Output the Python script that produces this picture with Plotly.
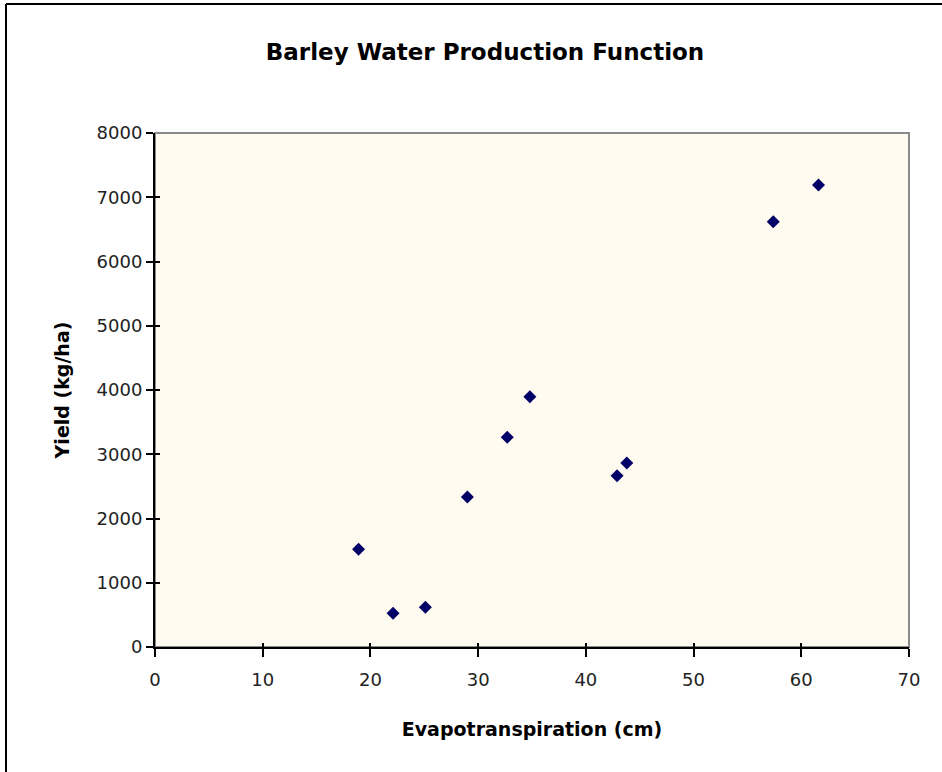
import plotly.graph_objects as go

evapotranspiration_cm = [18.9, 22.1, 25.1, 29.0, 32.7, 34.8, 42.9, 43.8, 57.4, 61.6]
yield_kg_ha = [1520, 525, 620, 2335, 3265, 3895, 2665, 2865, 6620, 7190]

x_ticks = [0, 10, 20, 30, 40, 50, 60, 70]
y_ticks = [0, 1000, 2000, 3000, 4000, 5000, 6000, 7000, 8000]

FONT = "DejaVu Sans, Verdana, sans-serif"
W, H = 942, 772
L, R, T, B = 155, 33, 133, 125

fig = go.Figure()
fig.add_trace(go.Scatter(
    x=evapotranspiration_cm, y=yield_kg_ha, mode="markers",
    marker=dict(symbol="diamond", size=10, color="#000066"),
    showlegend=False, hoverinfo="x+y"))
# invisible trace for inner tick overlay
fig.add_trace(go.Scatter(x=[0], y=[0], xaxis="x2", yaxis="y2", mode="markers",
                         marker=dict(opacity=0), showlegend=False, hoverinfo="skip"))

pw = W - L - R
ph = H - T - B

fig.update_layout(
    width=W, height=H,
    margin=dict(l=L, r=R, t=T, b=B, autoexpand=False),
    paper_bgcolor="white",
    plot_bgcolor="#FFFBF0",
    title=dict(text="<b>Barley Water Production Function</b>",
               x=(485 - L) / pw, xref="paper", xanchor="center",
               y=1 - 52 / H, yanchor="middle",
               font=dict(family=FONT, size=23, color="black")),
    font=dict(family=FONT, color="black"),
    xaxis=dict(range=[0, 70], tickvals=x_ticks, showgrid=False, zeroline=False,
               showline=True, linecolor="black", linewidth=2,
               ticks="outside", ticklen=8, tickwidth=2, tickcolor="black",
               ticklabelstandoff=7,
               tickfont=dict(family=FONT, size=18, color="#222222"),
               title=dict(text="<b>Evapotranspiration (cm)</b>", standoff=34,
                          font=dict(family=FONT, size=19, color="black"))),
    yaxis=dict(range=[0, 8000], tickvals=y_ticks, showgrid=False, zeroline=False,
               showline=True, linecolor="black", linewidth=2,
               ticks="outside", ticklen=7, tickwidth=2, tickcolor="black",
               tickfont=dict(family=FONT, size=18, color="#222222"),
               title=dict(text="<b>Yield (kg/ha)</b>", standoff=22,
                          font=dict(family=FONT, size=19, color="black"))),
    xaxis2=dict(range=[0, 70], tickvals=x_ticks, overlaying="x", showticklabels=False,
                showgrid=False, zeroline=False, showline=False,
                ticks="inside", ticklen=4, tickwidth=2, tickcolor="black"),
    yaxis2=dict(range=[0, 8000], tickvals=y_ticks, overlaying="y", showticklabels=False,
                showgrid=False, zeroline=False, showline=False,
                ticks="inside", ticklen=5, tickwidth=2, tickcolor="black"),
    shapes=[
        dict(type="rect", xref="paper", yref="paper", x0=0, x1=1, y0=0, y1=1,
             line=dict(color="#8A8A8A", width=2), layer="below"),
        # outer chart border (left and top visible)
        dict(type="line", xref="paper", yref="paper",
             x0=(6 - L) / pw, x1=(6 - L) / pw, y0=1 + (T - 4) / ph, y1=-(B + 10) / ph,
             line=dict(color="black", width=2)),
        dict(type="line", xref="paper", yref="paper",
             x0=(6 - L) / pw, x1=1 + (R + 10) / pw, y0=1 + (T - 4) / ph, y1=1 + (T - 4) / ph,
             line=dict(color="black", width=2)),
    ],
)

fig.write_html("out.html", config={"displayModeBar": False},
               post_script="document.body.style.margin='0px';")
